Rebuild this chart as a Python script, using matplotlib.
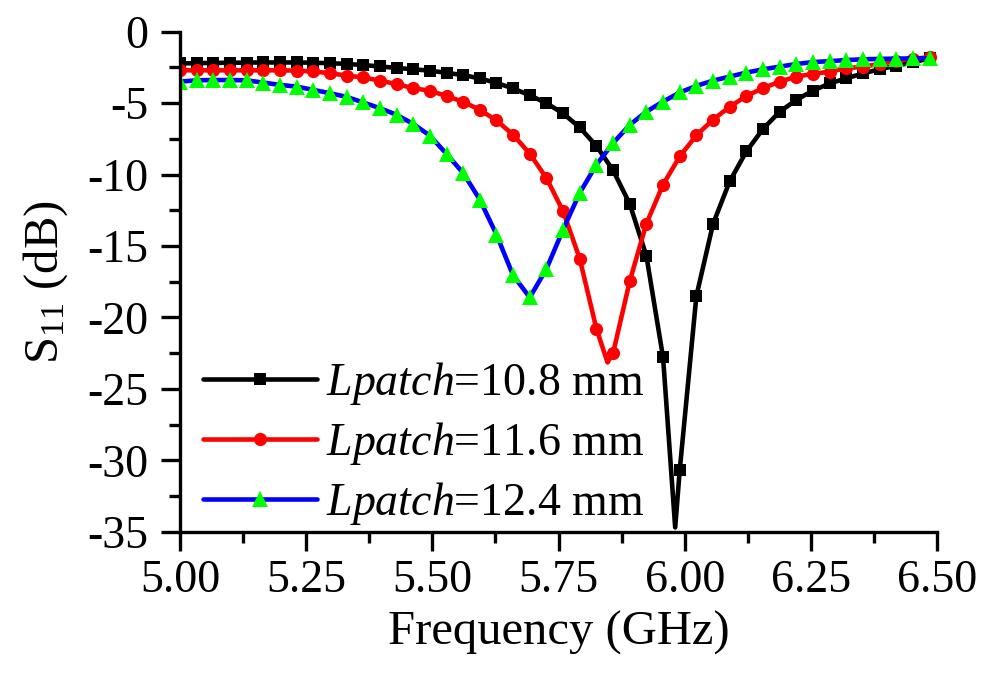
import numpy as np
import matplotlib
matplotlib.use("Agg")
import matplotlib.pyplot as plt
from matplotlib.ticker import MultipleLocator

plt.rcParams["font.family"] = ["Liberation Serif", "DejaVu Serif"]
plt.rcParams["mathtext.fontset"] = "custom"
plt.rcParams["mathtext.rm"] = "Liberation Serif"
plt.rcParams["mathtext.it"] = "Liberation Serif:italic"
plt.rcParams["axes.unicode_minus"] = False

# simulated sweep, one marker per sample
freq = np.round(5.0 + 0.033 * np.arange(46), 3)

s11_108 = [-2.22, -2.2, -2.18, -2.17, -2.16, -2.15, -2.15, -2.15, -2.17, -2.2,
           -2.25, -2.33, -2.43, -2.53, -2.63, -2.72, -2.88, -3.03, -3.27, -3.58,
           -3.97, -4.45, -5.0, -5.72, -6.7, -8.0, -9.7, -12.05, -15.7, -22.8,
           -30.7, -18.5, -13.45, -10.47, -8.38, -6.8, -5.6, -4.77, -4.12, -3.62,
           -3.26, -2.92, -2.62, -2.38, -2.15, -1.85]
s11_116 = [-2.7, -2.7, -2.7, -2.7, -2.7, -2.7, -2.7, -2.72, -2.78, -2.9,
           -3.07, -3.2, -3.42, -3.66, -3.95, -4.13, -4.5, -4.9, -5.47, -6.21,
           -7.21, -8.54, -10.24, -12.57, -15.9, -20.8, -22.5, -17.46, -13.43, -10.7,
           -8.73, -7.25, -6.15, -5.26, -4.49, -3.95, -3.49, -3.14, -2.95, -2.79,
           -2.56, -2.44, -2.26, -2.05, -1.9, -1.78]
s11_124 = [-3.49, -3.4, -3.38, -3.38, -3.4, -3.56, -3.72, -3.84, -4.07, -4.3,
           -4.56, -4.95, -5.35, -5.81, -6.45, -7.27, -8.55, -9.89, -11.75, -14.2,
           -17.06, -18.6, -16.6, -13.85, -11.28, -9.31, -7.79, -6.52, -5.59, -4.89,
           -4.25, -3.79, -3.42, -3.14, -2.86, -2.63, -2.44, -2.26, -2.12, -2.06,
           -1.98, -1.93, -1.9, -1.88, -1.87, -1.87]

# resonance minima fall between samples (no marker there)
dip_108 = (5.981, -34.7)
dip_116 = (5.847, -23.15)

labels = ["10.8", "11.6", "12.4"]


def with_dip(f, s, dip):
    f = np.asarray(f, float)
    s = np.asarray(s, float)
    if dip is None:
        return f, s, None
    i = int(np.searchsorted(f, dip[0]))
    f2 = np.insert(f, i, dip[0])
    s2 = np.insert(s, i, dip[1])
    marks = [j for j in range(len(f2)) if j != i]
    return f2, s2, marks


fig = plt.figure(figsize=(9.97, 6.77), dpi=100)
ax = fig.add_axes([0.1805, 0.2146, 0.7595, 0.7385])

series = [
    (s11_108, dip_108, "black", "s", "black", 8.5),
    (s11_116, dip_116, "red", "o", "red", 9.5),
    (s11_124, None, "blue", "^", "#00ff00", 11.5),
]
for (vals, dip, col, mk, mcol, ms), lab in zip(series, labels):
    f, s, marks = with_dip(freq, vals, dip)
    ax.plot(f, s, color=col, lw=3.3, marker=mk, ms=ms, mfc=mcol, mec=mcol,
            mew=0, markevery=marks, solid_capstyle="round",
            label=r"$\mathit{Lpatch}$=" + lab + " mm")

ax.set_xlim(5.0, 6.5)
ax.set_ylim(-35, 0)
ax.xaxis.set_major_locator(MultipleLocator(0.25))
ax.xaxis.set_minor_locator(MultipleLocator(0.125))
ax.yaxis.set_major_locator(MultipleLocator(5))
ax.yaxis.set_minor_locator(MultipleLocator(2.5))
ax.xaxis.set_major_formatter(matplotlib.ticker.FormatStrFormatter("%.2f"))

for side in ["top", "right"]:
    ax.spines[side].set_visible(False)
for side in ["left", "bottom"]:
    ax.spines[side].set_linewidth(2.4)

ax.tick_params(which="major", direction="out", length=14, width=2.4,
               labelsize=33)
ax.tick_params(which="minor", direction="out", length=8, width=2.4)
ax.tick_params(axis="x", which="major", pad=6)
ax.tick_params(axis="y", which="major", pad=9)

ax.set_xlabel("Frequency (GHz)", fontsize=35, labelpad=6)
ax.set_ylabel(r"S$_{11}$ (dB)", fontsize=35, labelpad=12)

ax.legend(loc="lower left", bbox_to_anchor=(0.03, 0.01), frameon=False,
          fontsize=33, handlelength=2.5, handletextpad=0.2,
          labelspacing=0.28, borderpad=0, borderaxespad=0)

fig.savefig("out.png", dpi=100)
